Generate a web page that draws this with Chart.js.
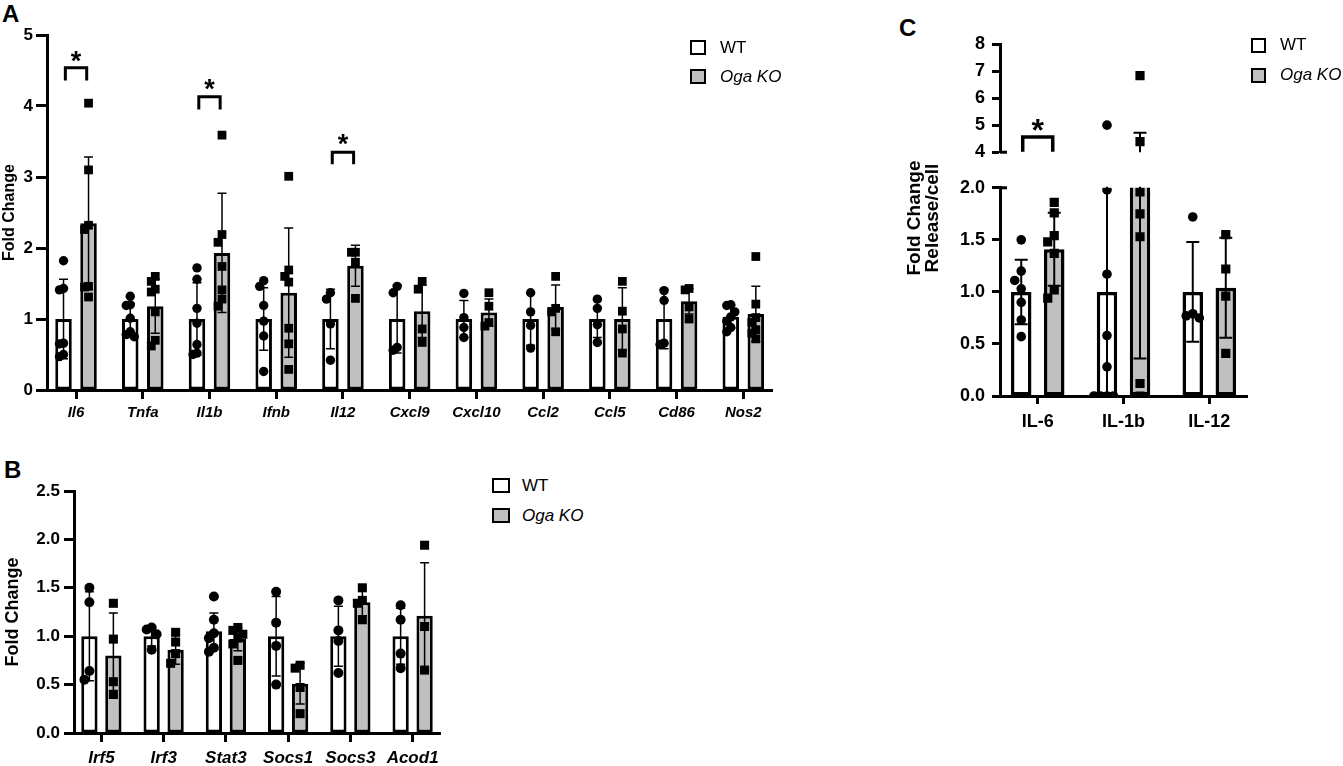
<!DOCTYPE html>
<html>
<head>
<meta charset="utf-8">
<script src="https://cdn.jsdelivr.net/npm/chart.js@4.4.1/dist/chart.umd.min.js"></script>
<style>
  body { margin: 0; background: #fff; width: 1343px; height: 766px; overflow: hidden; position: relative;
         font-family: "Liberation Sans", Arial, sans-serif; color: #000; }
  .box { position: absolute; }
  .letter { position: absolute; font-weight: bold; font-size: 24px; line-height: 24px; }
  .legend { position: absolute; font-size: 17px; white-space: nowrap; }
  .legend div { display: flex; align-items: center; }
  .sw { display: inline-block; border: 2px solid #000; background: #fff; }
  .sw.ko { background: #c0c0c0; }
  .ctitle { position: absolute; width: 170px; height: 36px; line-height: 18px; font-size: 19px; font-weight: bold;
            text-align: center; transform: rotate(-90deg); white-space: nowrap; }
</style>
</head>
<body>

<div class="letter" style="left:2px;top:2px">A</div>
<div class="letter" style="left:4px;top:458px">B</div>
<div class="letter" style="left:899px;top:16px">C</div>

<div class="box" style="left:0;top:0;width:800px;height:432px"><canvas id="chartA"></canvas></div>
<div class="box" style="left:0;top:450px;width:470px;height:316px"><canvas id="chartB"></canvas></div>
<div class="box" style="left:890px;top:0;width:453px;height:170px"><canvas id="chartCtop"></canvas></div>
<div class="box" style="left:890px;top:170px;width:453px;height:270px"><canvas id="chartCbot"></canvas></div>

<div class="ctitle" style="left:838px;top:200px">Fold Change<br>Release/cell</div>

<div class="legend" style="left:690px;top:33px;line-height:29px">
  <div><span class="sw" style="width:12px;height:11px;margin-right:14px"></span>WT</div>
  <div><span class="sw ko" style="width:12px;height:11px;margin-right:14px"></span><i>Oga KO</i></div>
</div>
<div class="legend" style="left:492px;top:471px;line-height:29.5px">
  <div><span class="sw" style="width:14px;height:11px;margin-right:12px"></span>WT</div>
  <div><span class="sw ko" style="width:14px;height:11px;margin-right:12px"></span><i>Oga KO</i></div>
</div>
<div class="legend" style="left:1251px;top:30px;line-height:30px">
  <div><span class="sw" style="width:11px;height:11px;margin-right:14px"></span>WT</div>
  <div><span class="sw ko" style="width:11px;height:11px;margin-right:14px"></span><i>Oga KO</i></div>
</div>

<script>
// ---- Panel A: cytokine / marker genes ----
const aLabels = ['Il6', 'Tnfa', 'Il1b', 'Ifnb', 'Il12', 'Cxcl9', 'Cxcl10', 'Ccl2', 'Ccl5', 'Cd86', 'Nos2'];
const aWtMean = [1.0, 1.0, 1.0, 1.0, 1.0, 1.0, 1.0, 1.0, 1.0, 1.0, 1.03];
const aKoMean = [2.35, 1.18, 1.93, 1.37, 1.75, 1.11, 1.09, 1.17, 1.0, 1.25, 1.07];
const aWtSd = [0.56, 0.22, 0.51, 0.44, 0.42, 0.48, 0.26, 0.37, 0.26, 0.42, 0.16];
const aKoSd = [0.93, 0.38, 0.84, 0.91, 0.29, 0.37, 0.19, 0.31, 0.44, 0.18, 0.39];
const aWtPts = [
  [1.82, 1.43, 1.41, 0.66, 0.65, 0.50, 0.47],
  [1.32, 1.20, 1.19, 1.01, 0.82, 0.78, 0.75],
  [1.72, 1.56, 1.15, 0.94, 0.64, 0.52, 0.50],
  [1.54, 1.46, 1.19, 0.97, 0.76, 0.26],
  [1.37, 1.28, 0.93, 0.42],
  [1.46, 1.37, 0.60, 0.56],
  [1.36, 1.02, 0.88, 0.74],
  [1.37, 1.10, 0.91, 0.59],
  [1.28, 1.15, 0.92, 0.67],
  [1.40, 1.26, 0.66, 0.64],
  [1.20, 1.19, 1.10, 1.03, 0.97, 0.88, 0.82]
];
const aKoPts = [
  [4.04, 3.10, 2.32, 2.26, 1.46, 1.45, 1.31],
  [1.60, 1.53, 1.42, 1.38, 1.10, 0.70, 0.62],
  [3.59, 2.19, 2.08, 1.74, 1.41, 1.28, 1.18],
  [3.01, 1.69, 1.60, 1.52, 0.87, 0.65, 0.29],
  [1.94, 1.94, 1.80, 1.29],
  [1.53, 1.42, 0.86, 0.67],
  [1.37, 1.18, 0.95, 0.90],
  [1.60, 1.15, 1.10, 0.82],
  [1.53, 1.11, 0.86, 0.52],
  [1.43, 1.41, 1.17, 1.00],
  [1.88, 1.21, 1.02, 0.95, 0.85, 0.80, 0.72]
];
const aSigCats = [0, 2, 4];

// ---- Panel B: transcription factors / regulators ----
const bLabels = ['Irf5', 'Irf3', 'Stat3', 'Socs1', 'Socs3', 'Acod1'];
const bWtMean = [1.0, 1.0, 1.05, 1.0, 1.0, 1.0];
const bKoMean = [0.80, 0.86, 0.97, 0.51, 1.35, 1.21];
const bWtSd = [0.46, 0.10, 0.19, 0.41, 0.31, 0.29];
const bKoSd = [0.44, 0.15, 0.12, 0.21, 0.14, 0.55];
const bWtPts = [
  [1.50, 1.35, 0.64, 0.55],
  [1.09, 1.07, 1.02, 0.86],
  [1.41, 1.17, 1.03, 0.98, 0.88, 0.84],
  [1.46, 1.14, 0.90, 0.50],
  [1.37, 1.06, 0.95, 0.62],
  [1.32, 1.17, 0.82, 0.67]
];
const bKoPts = [
  [1.34, 0.97, 0.53, 0.40],
  [1.04, 0.94, 0.82, 0.72],
  [1.09, 1.06, 1.02, 0.98, 0.92, 0.75],
  [0.70, 0.67, 0.47, 0.20],
  [1.50, 1.37, 1.34, 1.17],
  [1.94, 1.10, 0.65]
];

// ---- Panel C: secreted cytokines (broken y axis) ----
const cLabels = ['IL-6', 'IL-1b', 'IL-12'];
const cWtMean = [1.0, 1.0, 1.0];
const cKoMean = [1.41, 2.54, 1.04];
const cWtSd = [0.31, 1.65, 0.48];
const cKoSd = [0.35, 2.18, 0.48];
const cWtPts = [
  [1.50, 1.20, 1.11, 1.03, 0.90, 0.73, 0.57],
  [5.00, 1.98, 1.17, 0.58, 0.28, 0, 0, 0, 0],
  [1.72, 0.79, 0.77, 0.75]
];
const cKoPts = [
  [1.86, 1.76, 1.54, 1.48, 1.37, 1.02, 0.94],
  [6.83, 4.39, 1.96, 1.75, 1.53, 0.12, 0.0],
  [1.55, 1.22, 0.96, 0.41]
];
const cSigCats = [0];

Chart.defaults.font.family = '"Liberation Sans", Arial, sans-serif';
Chart.defaults.color = '#000';

// spread points of one group sideways when they would overlap (simple beeswarm)
function swarm(values, center, step, tol) {
  const placed = [];
  const out = new Array(values.length);
  const order = values.map((v, i) => i).sort((a, b) => values[b] - values[a]);
  order.forEach(i => {
    const v = values[i];
    for (let k = 0; k < 12; k++) {
      const slot = k === 0 ? 0 : (k % 2 ? -Math.ceil(k / 2) : k / 2);
      if (!placed.some(p => p.slot === slot && Math.abs(p.v - v) < tol)) {
        placed.push({ slot, v });
        out[i] = { x: center + slot * step, y: v };
        break;
      }
    }
  });
  return out;
}

// mean +/- SD whiskers, drawn right after the bars
const errorBars = {
  id: 'errorBars',
  afterDatasetDraw(chart, args, opts) {
    if (args.index !== 0 || !opts.groups) return;
    const { ctx, chartArea: a, scales: { x, y } } = chart;
    ctx.save();
    ctx.beginPath();
    ctx.rect(a.left - 30, a.top - 1, a.right - a.left + 60, a.bottom - a.top + 1);
    ctx.clip();
    ctx.strokeStyle = '#000';
    ctx.lineWidth = opts.width;
    opts.groups.forEach(g => {
      g.mean.forEach((m, i) => {
        const cx = x.getPixelForValue(i + g.offset);
        const hi = y.getPixelForValue(m + g.sd[i]);
        const lo = y.getPixelForValue(m - g.sd[i]);
        ctx.beginPath();
        ctx.moveTo(cx, lo); ctx.lineTo(cx, hi);
        ctx.moveTo(cx - opts.cap, hi); ctx.lineTo(cx + opts.cap, hi);
        ctx.moveTo(cx - opts.cap, lo); ctx.lineTo(cx + opts.cap, lo);
        ctx.stroke();
      });
    });
    ctx.restore();
  }
};

// significance brackets with asterisk
const sigMarks = {
  id: 'sigMarks',
  afterDatasetsDraw(chart, args, opts) {
    if (!opts.cats) return;
    const { ctx, scales: { x, y } } = chart;
    ctx.save();
    ctx.strokeStyle = '#000';
    ctx.fillStyle = '#000';
    ctx.lineWidth = opts.width;
    ctx.lineJoin = 'miter';
    ctx.font = 'bold ' + opts.starSize + 'px "Liberation Sans", Arial, sans-serif';
    ctx.textAlign = 'center';
    ctx.textBaseline = 'alphabetic';
    opts.cats.forEach((c, k) => {
      const lv = opts.levels[k];
      const x1 = x.getPixelForValue(c - opts.half);
      const x2 = x.getPixelForValue(c + opts.half);
      const yt = y.getPixelForValue(lv.top);
      const yl = y.getPixelForValue(lv.leg);
      ctx.beginPath();
      ctx.moveTo(x1, yl); ctx.lineTo(x1, yt); ctx.lineTo(x2, yt); ctx.lineTo(x2, yl);
      ctx.stroke();
      ctx.fillText('*', (x1 + x2) / 2, y.getPixelForValue(lv.star) + 0.6 * opts.starSize);
    });
    ctx.restore();
  }
};

// small stub to the right of the y axis where the axis is broken
const axisBreak = {
  id: 'axisBreak',
  afterDraw(chart, args, opts) {
    if (!opts.edge) return;
    const { ctx, chartArea: a } = chart;
    const yy = opts.edge === 'top' ? a.top : a.bottom;
    ctx.save();
    ctx.strokeStyle = '#000';
    ctx.lineWidth = 3;
    ctx.beginPath();
    ctx.moveTo(a.left, yy); ctx.lineTo(a.left + opts.len, yy);
    ctx.stroke();
    ctx.restore();
  }
};

function buildChart(id, d) {
  const st = d.st;
  const off = st.catPct / 4;
  const toXY = arr => arr.map((v, i) => ({ x: i, y: v }));
  const pts = (groups, sign) => groups.flatMap((g, i) => swarm(g, i + sign * off, st.step, st.tol));
  const dec = d.yDec;

  return new Chart(document.getElementById(id), {
    type: 'bar',
    data: {
      datasets: [
        { type: 'bar', label: 'WT', data: toXY(d.wtMean), backgroundColor: '#ffffff', borderColor: '#000',
          borderWidth: st.border, borderSkipped: false, categoryPercentage: st.catPct, barPercentage: st.barPct,
          order: 2, clip: d.barClip },
        { type: 'bar', label: 'Oga KO', data: toXY(d.koMean), backgroundColor: '#c0c0c0', borderColor: '#000',
          borderWidth: st.border, borderSkipped: false, categoryPercentage: st.catPct, barPercentage: st.barPct,
          order: 2, clip: d.barClip },
        { type: 'scatter', data: pts(d.wtPts, -1), pointStyle: 'circle', pointRadius: st.rc,
          backgroundColor: '#000', borderWidth: 0, order: 1 },
        { type: 'scatter', data: pts(d.koPts, 1), pointStyle: 'rect', pointRadius: st.rs,
          backgroundColor: '#000', borderWidth: 0, order: 1 }
      ]
    },
    options: {
      responsive: true,
      maintainAspectRatio: false,
      animation: false,
      events: [],
      layout: { padding: { top: d.box.padTop, right: d.box.padRight, bottom: d.box.padBottom, left: 0 } },
      scales: {
        x: {
          type: 'linear',
          display: d.showX,
          min: d.x[0], max: d.x[1],
          offset: false,
          afterBuildTicks: s => { s.ticks = d.labels.map((_, i) => ({ value: i })); },
          afterFit: s => { s.height = d.box.xHeight; },
          ticks: {
            autoSkip: false, maxRotation: 0, padding: st.xPad,
            font: { size: st.labelSize, weight: 'bold', style: st.italic ? 'italic' : 'normal' },
            callback: v => d.labels[v]
          },
          grid: { display: true, drawOnChartArea: false, offset: false, tickLength: st.xTickLen,
                  tickWidth: 3, tickColor: '#000' },
          border: { display: true, width: 3, color: '#000' }
        },
        y: {
          min: d.y[0], max: d.y[1],
          afterFit: s => { s.width = d.box.yWidth; },
          ticks: { stepSize: d.y[2], padding: st.yPad, font: { size: st.tickSize, weight: 'bold' },
                   callback: v => v.toFixed(dec) },
          grid: { display: true, drawOnChartArea: false, tickLength: st.tickLen, tickWidth: 3, tickColor: '#000' },
          border: { display: true, width: 3, color: '#000' },
          title: { display: !!d.title, text: d.title ? d.title.text : '', padding: { top: d.title ? d.title.pad : 0, bottom: 0 },
                   font: { size: d.title ? d.title.size : 12, weight: 'bold' } }
        }
      },
      plugins: {
        legend: { display: false },
        tooltip: { enabled: false },
        errorBars: {
          width: st.err, cap: st.cap,
          groups: [
            { mean: d.wtMean, sd: d.wtSd, offset: -off },
            { mean: d.koMean, sd: d.koSd, offset: off }
          ]
        },
        sigMarks: d.sig || {},
        axisBreak: d.brk || {}
      }
    },
    plugins: [errorBars, sigMarks, axisBreak]
  });
}

const noClip = { left: false, right: false, top: 0, bottom: false };

buildChart('chartA', {
  labels: aLabels, wtMean: aWtMean, koMean: aKoMean, wtSd: aWtSd, koSd: aKoSd, wtPts: aWtPts, koPts: aKoPts,
  x: [-0.435, 10.43], y: [0, 5, 1], yDec: 0, showX: true, barClip: noClip,
  box: { padTop: 35, padRight: 28, padBottom: 0, yWidth: 47, xHeight: 42 },
  title: { text: 'Fold Change', size: 16, pad: 0 },
  st: { border: 3, catPct: 0.75, barPct: 0.66, rc: 4.7, rs: 6.2, tickSize: 17, labelSize: 15, italic: true,
        tickLen: 11, xTickLen: 9, yPad: 3, xPad: 5, err: 1.5, cap: 4.5, step: 0.06, tol: 0.12 },
  sig: { cats: aSigCats, half: 0.16, width: 3, starSize: 27,
         levels: [{ top: 4.54, leg: 4.36, star: 4.74 }, { top: 4.13, leg: 3.95, star: 4.34 }, { top: 3.35, leg: 3.18, star: 3.56 }] }
});

buildChart('chartB', {
  labels: bLabels, wtMean: bWtMean, koMean: bKoMean, wtSd: bWtSd, koSd: bKoSd, wtPts: bWtPts, koPts: bKoPts,
  x: [-0.44, 5.44], y: [0, 2.5, 0.5], yDec: 1, showX: true, barClip: noClip,
  box: { padTop: 41, padRight: 30, padBottom: 0, yWidth: 74, xHeight: 33 },
  title: { text: 'Fold Change', size: 18, pad: 2 },
  st: { border: 3, catPct: 0.77, barPct: 0.68, rc: 5, rs: 6.4, tickSize: 17, labelSize: 17, italic: true,
        tickLen: 10, xTickLen: 9, yPad: 4, xPad: 6, err: 1.5, cap: 4.5, step: 0.08, tol: 0.1 }
});

const cStyle = { border: 3.5, catPct: 0.77, barPct: 0.62, rc: 4.8, rs: 6.5, tickSize: 18, labelSize: 18, italic: false,
                 tickLen: 8, xTickLen: 8, yPad: 7, xPad: 7, err: 2, cap: 6.5, step: 0.076, tol: 0.094 };

buildChart('chartCtop', {
  labels: cLabels, wtMean: cWtMean, koMean: cKoMean, wtSd: cWtSd, koSd: cKoSd, wtPts: cWtPts, koPts: cKoPts,
  x: [-0.44, 2.44], y: [4, 8, 1], yDec: 0, showX: false,
  barClip: { left: false, right: false, top: 0, bottom: 0 },
  box: { padTop: 44, padRight: 96, padBottom: 9, yWidth: 110, xHeight: 0 },
  st: cStyle,
  sig: { cats: cSigCats, half: 0.175, width: 3.5, starSize: 32, levels: [{ top: 4.56, leg: 4.02, star: 5.11 }] },
  brk: { edge: 'bottom', len: 7 }
});

buildChart('chartCbot', {
  labels: cLabels, wtMean: cWtMean, koMean: cKoMean, wtSd: cWtSd, koSd: cKoSd, wtPts: cWtPts, koPts: cKoPts,
  x: [-0.44, 2.44], y: [0, 2, 0.5], yDec: 1, showX: true, barClip: noClip,
  box: { padTop: 12, padRight: 96, padBottom: 0, yWidth: 110, xHeight: 44 },
  st: cStyle,
  brk: { edge: 'top', len: 7 }
});
</script>
</body>
</html>
